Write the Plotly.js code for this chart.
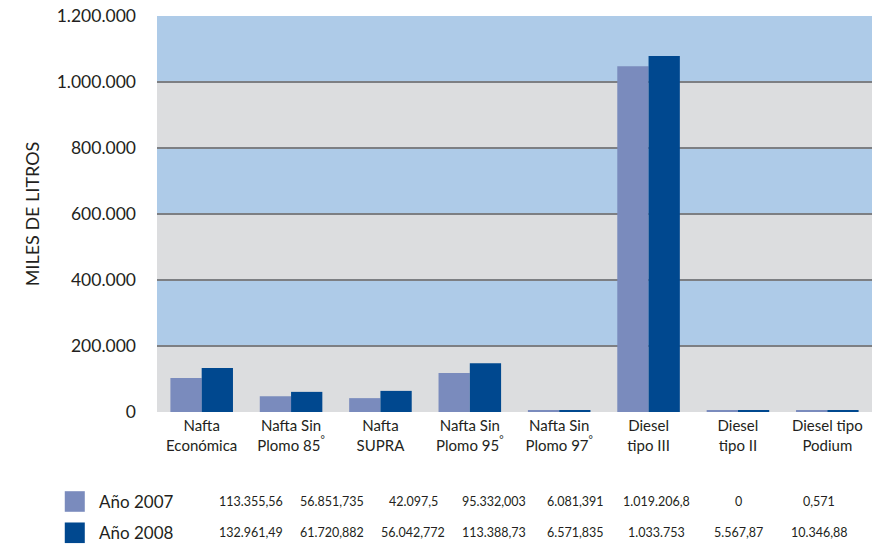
<!DOCTYPE html>
<html>
<head>
<meta charset="utf-8">
<script src="https://cdn.plot.ly/plotly-3.0.1.min.js"></script>
<style>html,body{margin:0;padding:0;background:#fff;}#chart{width:887px;height:544px;}</style>
</head>
<body>
<div id="chart"></div>
<script>
// ---- data ----
const categorias = [
  'Nafta<br>Económica',
  'Nafta Sin<br>Plomo 85<sup>°</sup>',
  'Nafta<br>SUPRA',
  'Nafta Sin<br>Plomo 95<sup>°</sup>',
  'Nafta Sin<br>Plomo 97<sup>°</sup>',
  'Diesel<br>tipo III',
  'Diesel<br>tipo II',
  'Diesel tipo<br>Podium'
];
const nombresSeries = ['Año 2007', 'Año 2008'];
// bar heights
const serie2007 = [103000, 48000, 42000, 118000, 6000, 1048000, 6000, 6000];
const serie2008 = [133000, 61000, 64000, 148000, 6000, 1079000, 6000, 6000];
// values printed in the table below the chart
const tabla2007 = ['113.355,56', '56.851,735', '42.097,5', '95.332,003', '6.081,391', '1.019.206,8', '0', '0,571'];
const tabla2008 = ['132.961,49', '61.720,882', '56.042,772', '113.388,73', '6.571,835', '1.033.753', '5.567,87', '10.346,88'];
const ticksY = [0, 200000, 400000, 600000, 800000, 1000000, 1200000];
const tituloY = 'MILES DE LITROS';

// ---- styles ----
const colores = ['#7a8bbd', '#00488f'];
const bandaAzul = '#aecbe8';
const bandaGris = '#dcdddf';
const colorGrid = '#7d7f83';
const fuente = 'Lato, "Open Sans", sans-serif';
const colorTexto = '#231f20';

const trazas = [serie2007, serie2008].map((vals, i) => ({
  type: 'bar',
  name: nombresSeries[i],
  x: categorias,
  y: vals,
  marker: {color: colores[i], line: {width: 0}},
  hoverinfo: 'skip'
}));

const shapes = [];
for (let i = 0; i < ticksY.length - 1; i++) {
  const fromTop = ticksY.length - 2 - i;
  shapes.push({
    type: 'rect', xref: 'paper', yref: 'y', layer: 'below',
    x0: 0, x1: 1, y0: ticksY[i], y1: ticksY[i + 1],
    fillcolor: fromTop % 2 === 0 ? bandaAzul : bandaGris,
    line: {width: 0}
  });
}
for (let i = 1; i < ticksY.length - 1; i++) {
  shapes.push({
    type: 'line', xref: 'paper', yref: 'y', layer: 'below',
    x0: 0, x1: 1, y0: ticksY[i], y1: ticksY[i],
    line: {color: colorGrid, width: 2}
  });
}

// table layout (paper coordinates)
const filasY = [-0.226, -0.305];
const colInicio = 0.131, colPaso = 0.1136;
const annotations = [];
[tabla2007, tabla2008].forEach((fila, r) => {
  shapes.push({
    type: 'rect', xref: 'paper', yref: 'paper',
    x0: -0.129, x1: -0.101, y0: filasY[r] - 0.026, y1: filasY[r] + 0.026,
    fillcolor: colores[r], line: {width: 0}
  });
  annotations.push({
    xref: 'paper', yref: 'paper', x: -0.084, y: filasY[r],
    xanchor: 'left', yanchor: 'middle', showarrow: false,
    text: nombresSeries[r], font: {family: fuente, size: 17, color: colorTexto}
  });
  fila.forEach((t, c) => {
    annotations.push({
      xref: 'paper', yref: 'paper', x: colInicio + colPaso * c, y: filasY[r],
      xanchor: 'center', yanchor: 'middle', showarrow: false,
      text: t, font: {family: fuente, size: 12.5, color: colorTexto}
    });
  });
});

const layout = {
  width: 887, height: 544,
  margin: {l: 157, r: 15, t: 16, b: 132},
  paper_bgcolor: '#ffffff',
  plot_bgcolor: '#ffffff',
  separators: ',.',
  showlegend: false,
  barmode: 'group',
  bargap: 0.3,
  bargroupgap: 0,
  font: {family: fuente, color: colorTexto},
  xaxis: {
    type: 'category',
    showgrid: false, zeroline: false, showline: false,
    ticks: '',
    tickfont: {family: fuente, size: 15, color: colorTexto},
    ticklabelstandoff: 3
  },
  yaxis: {
    range: [0, 1200000],
    tickvals: ticksY,
    tickformat: ',d',
    showgrid: false, zeroline: false, showline: false,
    ticks: '',
    ticklabelstandoff: 20,
    tickfont: {family: fuente, size: 17.5, color: colorTexto},
    title: {text: tituloY, font: {family: fuente, size: 18, color: colorTexto}, standoff: 12}
  },
  shapes: shapes,
  annotations: annotations
};

Plotly.newPlot('chart', trazas, layout, {displayModeBar: false, staticPlot: true});
</script>
</body>
</html>
